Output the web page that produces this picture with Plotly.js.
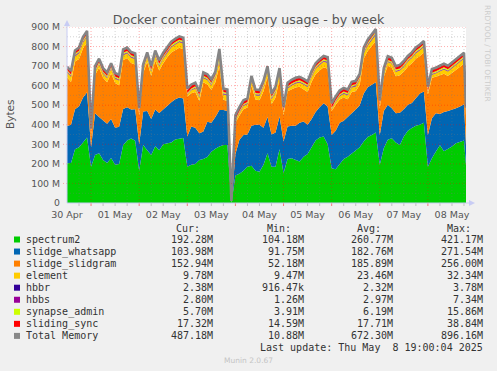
<!DOCTYPE html>
<html><head><meta charset="utf-8">
<script src="https://cdn.plot.ly/plotly-3.0.1.min.js"></script>
<style>html,body{margin:0;padding:0;background:#f0f0f0;} #chart{width:497px;height:371px;}</style>
</head><body><div id="chart"></div>
<script>
// ---- data (values in MB), one sample every 2 h from 30 Apr 12:00, last sample 8 May 19:00 ----
const spectrum2 = [203,205,275,285,310,335,186,246,255,220,205,230,195,200,295,320,330,318,165,297,270,245,290,270,300,305,310,325,331,333,185,195,200,220,225,235,262,278,289,297,297,null,140,150,165,186,190,165,160,195,254,186,186,275,152,225,229,220,212,237,250,285,320,335,340,300,178,172,200,225,236,254,272,285,315,338,348,360,195,280,323,331,310,297,340,370,383,395,400,410,186,229,263,295,265,275,289,306,314,320,192.28];
const slidge_whatsapp = [191,195,205,210,229,231,99,213,185,200,200,200,190,190,186,170,148,162,135,171,200,185,188,190,180,190,205,205,209,202,155,196,185,137,140,180,148,162,186,178,173,null,110,173,183,164,205,235,240,190,186,164,174,167,162,166,166,175,198,180,150,145,145,155,170,194,170,198,210,195,206,205,206,215,245,254,257,257,153,190,179,154,149,165,140,132,128,140,160,160,162,205,196,160,200,195,187,179,180,185,103.98];
const slidge_slidgram = [249,219,243,242,252,254,54,197,251,221,213,234,228,212,250,250,238,228,145,197,252,220,251,217,234,250,254,253,254,251,204,170,183,164,252,191,169,178,225,53,52,null,161,125,132,138,206,129,126,187,206,155,179,191,135,180,188,196,184,165,168,190,194,188,184,192,122,132,119,120,88,109,94,105,179,185,196,212,136,175,200,207,189,191,192,195,203,203,192,199,207,207,186,196,196,180,189,196,203,207,152.94];
const element = [26,27,28,29,30,31,12,15,18,20,21,22,23,24,25,26,27,28,11,16,19,21,22,24,25,26,27,28,29,30,12,15,18,20,22,23,24,25,26,27,28,null,10,13,16,18,20,22,23,24,25,26,27,28,12,15,18,20,22,24,25,26,27,28,29,30,11,14,17,19,21,23,24,26,27,29,30,32,12,16,19,21,23,24,25,26,27,28,29,30,11,15,18,20,22,23,24,25,26,27,9.78];
const hbbr = [2.4,2.4,2.5,2.5,2.5,2.6,1.0,1.8,2.0,2.1,2.2,2.2,2.3,2.3,2.4,2.4,2.5,2.5,0.9,1.8,2.0,2.1,2.2,2.3,2.3,2.4,2.4,2.5,2.5,2.6,1.0,1.9,2.0,2.1,2.2,2.3,2.3,2.4,2.4,2.5,2.5,1.0,1.1,1.8,2.0,2.1,2.2,2.2,2.3,2.4,2.4,2.5,2.5,2.6,1.0,1.9,2.0,2.1,2.2,2.3,2.4,2.4,2.5,2.5,2.6,2.6,1.0,1.9,2.0,2.1,2.2,2.3,2.4,2.5,2.6,2.7,3.2,3.8,1.0,1.9,2.0,2.1,2.2,2.3,2.4,2.4,2.5,2.5,2.6,2.6,1.0,1.9,2.0,2.1,2.2,2.2,2.3,2.3,2.4,2.4,2.38];
const hbbs = [3.0,3.1,3.1,3.2,3.2,3.3,1.3,2.4,2.6,2.7,2.8,2.9,3.0,3.0,3.1,3.1,3.2,3.2,1.3,2.5,2.6,2.8,2.9,3.0,3.0,3.1,3.1,3.2,3.2,3.3,1.4,2.5,2.7,2.8,2.9,3.0,3.0,3.1,7.3,3.2,3.2,1.3,1.5,2.4,2.6,2.7,2.8,2.9,3.0,3.0,3.1,3.1,3.2,3.2,1.4,2.5,2.7,2.8,2.9,3.0,3.0,3.1,3.1,3.2,3.2,3.3,1.4,2.5,2.7,2.8,2.9,3.0,3.1,3.2,3.3,3.4,3.5,3.6,1.4,2.5,2.6,2.7,2.8,2.9,3.0,3.0,3.1,3.1,3.2,3.2,1.4,2.4,2.5,2.6,2.7,2.7,2.8,2.8,2.9,2.9,2.80];
const synapse_admin = [6.2,6.2,6.3,6.3,6.4,6.4,4.0,5.5,5.8,6.0,6.1,6.2,6.2,6.3,6.3,6.4,6.4,6.5,3.9,5.6,5.8,6.0,6.1,6.2,6.3,6.3,6.4,6.4,6.5,6.5,4.0,5.6,5.9,6.0,6.1,6.2,6.3,6.3,15.9,6.4,6.4,4.2,4.1,5.5,5.8,6.0,6.1,6.2,6.2,6.3,6.3,6.4,6.4,6.5,4.0,5.6,5.8,6.0,6.1,6.2,6.3,6.3,6.4,6.4,6.5,6.5,4.0,5.6,5.8,6.0,6.1,6.2,6.3,6.4,6.5,6.6,6.7,6.8,4.0,5.6,5.8,6.0,6.1,6.2,6.3,6.3,6.4,6.4,6.5,6.5,3.9,5.4,5.6,5.7,5.8,5.9,6.0,6.0,6.1,6.1,5.70];
const sliding_sync = [17.8,17.9,18.0,18.1,18.2,18.3,14.6,16.5,16.9,17.2,17.4,17.5,17.6,17.7,17.8,17.9,18.0,18.1,14.7,16.6,17.0,17.2,17.4,17.5,17.6,17.7,17.8,17.9,18.0,18.1,14.8,16.6,17.0,17.2,17.4,17.5,17.6,17.7,38.8,17.9,18.0,null,14.9,16.5,16.9,17.2,17.4,17.5,17.6,17.7,17.8,17.9,18.0,18.1,14.7,16.6,17.0,17.2,17.4,17.5,17.6,17.7,17.8,17.9,18.0,18.1,14.6,16.6,17.0,17.2,17.4,17.5,17.6,17.7,17.9,18.1,18.3,18.5,14.7,16.6,17.0,17.2,17.4,17.5,17.6,17.7,17.8,17.9,18.0,18.1,14.6,16.4,16.8,17.0,17.1,17.2,17.2,17.3,17.3,17.3,17.32];
const total_memory = [698,675,780,795,850,880,380,700,738,690,668,715,665,655,785,795,772,765,485,710,770,700,780,730,768,800,825,840,852,845,585,605,615,570,668,658,632,672,788,585,580,10.9,450,490,525,535,650,580,578,625,700,560,595,690,490,615,630,640,645,635,622,675,715,735,752,745,510,545,575,588,580,620,625,660,795,835,860,890,525,690,750,742,700,706,726,752,770,795,810,828,595,685,692,700,712,702,718,735,752,768,487.18];

const seriesNames = ['spectrum2','slidge_whatsapp','slidge_slidgram','element','hbbr','hbbs','synapse_admin','sliding_sync','Total Memory'];
const seriesColors = ['#00CC00','#0066B3','#FF8000','#FFCC00','#330099','#990099','#CCFF00','#FF0000','#888888'];
const curText = ['192.28M','103.98M','152.94M','9.78M','2.38M','2.80M','5.70M','17.32M','487.18M'];
const minText = ['104.18M','91.75M','52.18M','9.47M','916.47k','1.26M','3.91M','14.59M','10.88M'];
const avgText = ['260.77M','182.76M','185.89M','23.46M','2.32M','2.97M','6.19M','17.71M','672.30M'];
const maxText = ['421.17M','271.54M','256.00M','32.34M','3.78M','7.34M','15.86M','38.84M','896.16M'];
const dayLabels = ['30 Apr','01 May','02 May','03 May','04 May','05 May','06 May','07 May','08 May'];
const yTickVals = [0,100,200,300,400,500,600,700,800,900];
const yTickText = ['0','100 M','200 M','300 M','400 M','500 M','600 M','700 M','800 M','900 M'];

// ---- time axis ----
const fmt = ms => new Date(ms).toISOString().slice(0,16).replace('T',' ');
const H = 3600e3;
const t0 = Date.UTC(2025,3,30,12,0);
const times = [];
for (let k = 0; k < 100; k++) times.push(fmt(t0 + k*2*H));
times.push('2025-05-08 19:00');
const xStart = '2025-04-30 12:00', xEnd = '2025-05-08 19:00';
const noonTicks = dayLabels.map((d,i) => fmt(t0 + i*24*H));

const stacks = [spectrum2, slidge_whatsapp, slidge_slidgram, element, hbbr, hbbs, synapse_admin, sliding_sync];
const traces = stacks.map((arr,i) => ({
  x: times, y: arr, type:'scatter', mode:'lines', stackgroup:'one',
  line:{width:0, color:seriesColors[i]}, fillcolor:seriesColors[i], hoverinfo:'skip', name:seriesNames[i]
}));
traces.push({x: times, y: total_memory, type:'scatter', mode:'lines', line:{color:'#858585', width:2.6}, hoverinfo:'skip', name:'Total Memory'});

// ---- pixel helpers for decorations ----
const L = 67, R = 466, T = 27, B = 203;
const px = x => (x - L) / (R - L);
const py = y => (B - y) / (B - T);

const shapes = [];
const dash = '1px,2px';
// vertical grid (6 h minor, red at midnight)
const gStart = Date.UTC(2025,3,30,18,0), gEnd = Date.UTC(2025,4,8,19,0);
for (let ms = gStart; ms < gEnd; ms += 6*H) {
  const midnight = new Date(ms).getUTCHours() === 0;
  shapes.push({type:'line', layer:'above', xref:'x', yref:'paper', x0:fmt(ms), x1:fmt(ms), y0:0, y1:1,
    line:{color: midnight ? 'rgba(255,0,0,0.32)' : 'rgba(120,120,120,0.32)', width:1, dash:dash}});
  shapes.push({type:'line', layer:'above', xref:'x', yref:'paper', x0:fmt(ms), x1:fmt(ms), y0:py(B+3), y1:0,
    line:{color: midnight ? 'rgba(255,0,0,0.5)' : 'rgba(120,120,120,0.4)', width:1}});
}
// horizontal grid (50 M minor, red at 100 M)
for (let v = 50; v <= 900; v += 50) {
  const major = v % 100 === 0;
  shapes.push({type:'line', layer:'above', xref:'paper', yref:'y', x0: major ? px(L-4) : 0, x1:1, y0:v, y1:v,
    line:{color: major ? 'rgba(255,0,0,0.32)' : 'rgba(120,120,120,0.32)', width:1, dash:dash}});
}
// axes with arrows
const axCol = '#c8ccf4';
shapes.push({type:'line', layer:'above', xref:'paper', yref:'paper', x0:0, x1:0, y0:0, y1:py(T-2), line:{color:axCol, width:1}});
shapes.push({type:'line', layer:'above', xref:'paper', yref:'paper', x0:0, x1:px(R+5), y0:0, y1:0, line:{color:axCol, width:1}});
shapes.push({type:'path', layer:'above', xref:'paper', yref:'paper',
  path:`M ${px(L)},${py(T-7)} L ${px(L-3)},${py(T-1)} L ${px(L+3)},${py(T-1)} Z`, fillcolor:axCol, line:{width:0}});
shapes.push({type:'path', layer:'above', xref:'paper', yref:'paper',
  path:`M ${px(R+9)},${py(B)} L ${px(R+3)},${py(B-3)} L ${px(R+3)},${py(B+3)} Z`, fillcolor:axCol, line:{width:0}});

// ---- legend table ----
const mono = 'DejaVu Sans Mono';
const txtCol = '#333';
const ann = [];
const A = (x, y, text, anchor, extra) => Object.assign({xref:'paper', yref:'paper', x:px(x), y:py(y), text:text,
  showarrow:false, xanchor:anchor, yanchor:'middle', borderpad:0, borderwidth:0,
  font:{family:mono, size:10, color:txtCol}}, extra || {});
const headY = 228.5;
ann.push(A(199.5, headY, 'Cur:', 'right'));
ann.push(A(290.5, headY, 'Min:', 'right'));
ann.push(A(380.5, headY, 'Avg:', 'right'));
ann.push(A(470.5, headY, 'Max:', 'right'));
seriesNames.forEach((n,i) => {
  const y = 239.5 + 12.05*i;
  shapes.push({type:'rect', xref:'paper', yref:'paper', x0:px(14), x1:px(20), y0:py(y-3), y1:py(y+3), fillcolor:seriesColors[i], line:{width:0}});
  ann.push(A(26, y, n, 'left'));
  ann.push(A(212.5, y, curText[i], 'right'));
  ann.push(A(303.5, y, minText[i], 'right'));
  ann.push(A(393, y, avgText[i], 'right'));
  ann.push(A(483, y, maxText[i], 'right'));
});
ann.push(A(483, 347.8, 'Last update: Thu May  8 19:00:04 2025', 'right'));
ann.push(A(248, 360, 'Munin 2.0.67', 'center', {font:{family:'DejaVu Sans', size:7.5, color:'#c4c4c4'}}));
ann.push(A(10, 115, 'Bytes', 'center', {textangle:-90, font:{family:'DejaVu Sans', size:10.5, color:'#555'}}));
ann.push(A(488, 53, 'RRDTOOL / TOBI OETIKER', 'center', {textangle:90, font:{family:'DejaVu Sans', size:7.5, color:'#cdcdcd'}}));

const layout = {
  width:497, height:371,
  paper_bgcolor:'#f0f0f0', plot_bgcolor:'#ffffff',
  margin:{l:L, r:497-R, t:T, b:371-B, pad:0},
  showlegend:false,
  title:{text:'Docker container memory usage - by week', font:{family:'DejaVu Sans', size:12.6, color:'#555'},
    x:0.5, xref:'container', xanchor:'center', y:1-20/371, yref:'container', yanchor:'middle'},
  xaxis:{type:'date', range:[xStart, xEnd], tickmode:'array', tickvals:noonTicks, ticktext:dayLabels,
    showgrid:false, zeroline:false, showline:false, ticks:'', ticklabelstandoff:4,
    tickfont:{family:'DejaVu Sans', size:9.5, color:'#555'}, fixedrange:true},
  yaxis:{range:[0,900], tickmode:'array', tickvals:yTickVals, ticktext:yTickText,
    showgrid:false, zeroline:false, showline:false, ticks:'', ticklabelstandoff:6,
    tickfont:{family:'DejaVu Sans', size:9.3, color:'#555'}, fixedrange:true},
  shapes:shapes, annotations:ann
};
Plotly.newPlot('chart', traces, layout, {displayModeBar:false, staticPlot:true});
</script></body></html>
